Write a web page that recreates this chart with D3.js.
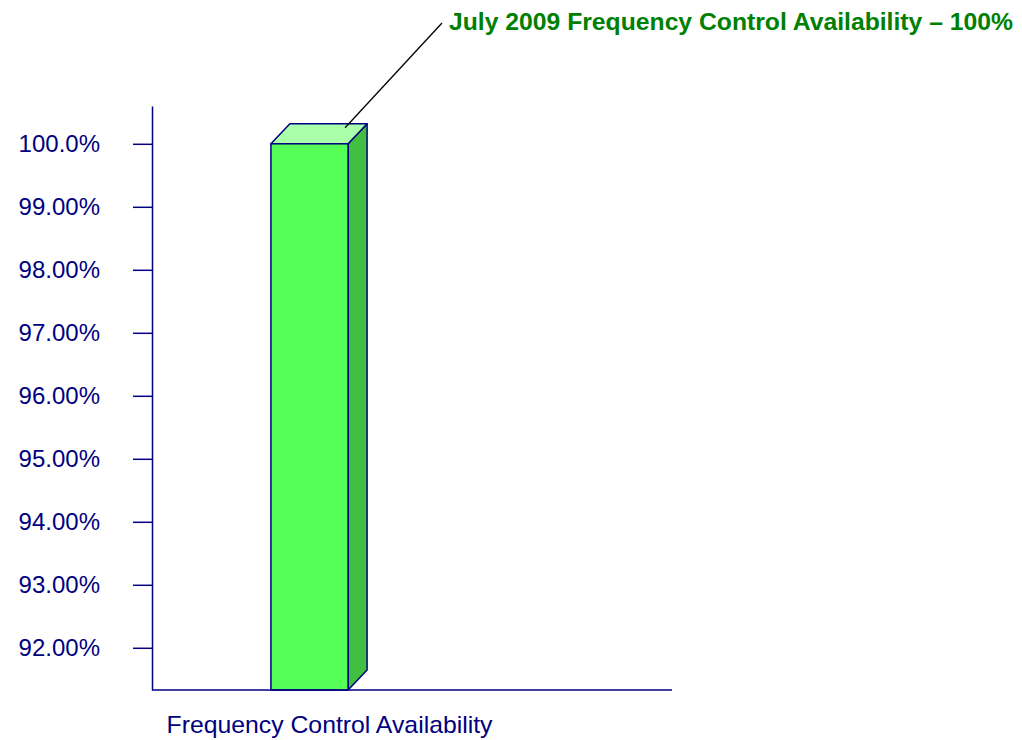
<!DOCTYPE html>
<html>
<head>
<meta charset="utf-8">
<script src="https://cdn.jsdelivr.net/npm/d3@7"></script>
<style>
  body { margin: 0; background: #fff; }
  svg { display: block; font-family: Arial, "Liberation Sans", sans-serif; }
</style>
</head>
<body>
<script>
// chart data
const categories = ['Frequency Control Availability'];
const values = [100];
const tickValues = [92, 93, 94, 95, 96, 97, 98, 99, 100];
const tickLabels = ['92.00%', '93.00%', '94.00%', '95.00%', '96.00%', '97.00%', '98.00%', '99.00%', '100.0%'];
const titleText = 'July 2009 Frequency Control Availability \u2013 100%';

const navy = '#000080';
const depth = { dx: 19, dy: 20 };

const svg = d3.select('body')
  .append('svg')
  .attr('width', 1022)
  .attr('height', 740);

// scales
const y = d3.scaleLinear()
  .domain([91.33, 100.6])
  .range([690, 106]);
const x = d3.scaleBand()
  .domain(categories)
  .range([152, 467]);

// y axis
const yAxis = d3.axisLeft(y)
  .tickValues(tickValues)
  .tickFormat((d, i) => tickLabels[i])
  .tickSize(19)
  .tickSizeOuter(0)
  .tickPadding(33);

const gy = svg.append('g')
  .attr('transform', 'translate(152,0)')
  .call(yAxis);
gy.select('.domain').attr('stroke', navy).attr('stroke-width', 1.5);
gy.selectAll('.tick line').attr('stroke', navy).attr('stroke-width', 1.5);
gy.selectAll('.tick text')
  .attr('fill', navy)
  .attr('font-size', 24)
  .attr('font-family', 'Arial, "Liberation Sans", sans-serif');

// bars (3D look)
const barW = x.bandwidth() * 0.245;
const bars = svg.selectAll('.bar')
  .data(categories.map((c, i) => ({ c, v: values[i] })))
  .enter().append('g')
  .attr('class', 'bar');

bars.append('path')
  .attr('d', d => {
    const x0 = x(d.c) + x.bandwidth() / 2 - barW / 2, x1 = x0 + barW, yt = y(d.v);
    return `M${x1},${yt}L${x1 + depth.dx},${yt - depth.dy}L${x1 + depth.dx},${y.range()[0] - depth.dy}L${x1},${y.range()[0]}Z`;
  })
  .attr('fill', '#40BF40')
  .attr('stroke', navy)
  .attr('stroke-width', 1.5)
  .attr('stroke-linejoin', 'round');

bars.append('path')
  .attr('d', d => {
    const x0 = x(d.c) + x.bandwidth() / 2 - barW / 2, x1 = x0 + barW, yt = y(d.v);
    return `M${x0},${yt}L${x0 + depth.dx},${yt - depth.dy}L${x1 + depth.dx},${yt - depth.dy}L${x1},${yt}Z`;
  })
  .attr('fill', '#AAFFAA')
  .attr('stroke', navy)
  .attr('stroke-width', 1.5)
  .attr('stroke-linejoin', 'round');

bars.append('rect')
  .attr('x', d => x(d.c) + x.bandwidth() / 2 - barW / 2)
  .attr('y', d => y(d.v))
  .attr('width', barW)
  .attr('height', d => y.range()[0] - y(d.v))
  .attr('fill', '#55FF55')
  .attr('stroke', navy)
  .attr('stroke-width', 1.5);

// baseline
svg.append('line')
  .attr('x1', 152).attr('x2', 672)
  .attr('y1', y.range()[0]).attr('y2', y.range()[0])
  .attr('stroke', navy)
  .attr('stroke-width', 1.5);

// category label
svg.selectAll('.cat')
  .data(categories)
  .enter().append('text')
  .attr('class', 'cat')
  .attr('x', d => x(d) + x.bandwidth() / 2 + 20)
  .attr('y', 733)
  .attr('text-anchor', 'middle')
  .attr('fill', navy)
  .attr('font-size', 24)
  .attr('textLength', 326)
  .attr('lengthAdjust', 'spacingAndGlyphs')
  .text(d => d);

// callout line + title
const c0 = categories[0];
const bx = x(c0) + x.bandwidth() / 2 + barW / 2;
svg.append('line')
  .attr('x1', bx - 3).attr('y1', y(values[0]) - depth.dy + 4)
  .attr('x2', 442).attr('y2', 23)
  .attr('stroke', '#000')
  .attr('stroke-width', 1.3);

svg.append('text')
  .attr('x', 449)
  .attr('y', 30)
  .attr('fill', '#008000')
  .attr('font-weight', 'bold')
  .attr('font-size', 23)
  .attr('textLength', 564)
  .attr('lengthAdjust', 'spacingAndGlyphs')
  .text(titleText);
</script>
</body>
</html>
